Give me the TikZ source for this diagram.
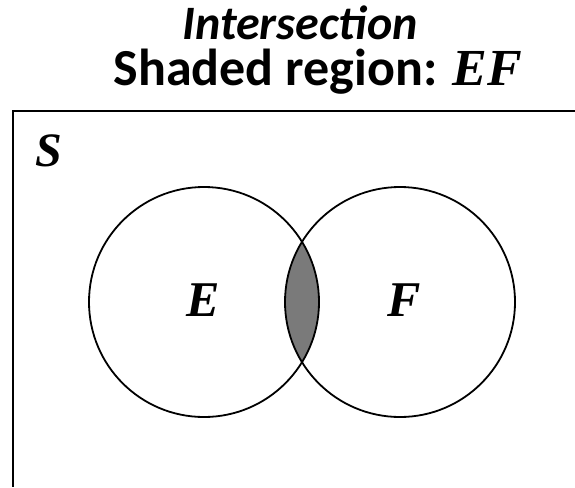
\documentclass[tikz,border=0pt]{standalone}
\usepackage{fontspec}
\setmainfont{Carlito}
\newfontfamily\tnr{Liberation Serif}
\tikzset{
  venn/.style={circle, draw, line width=1.8pt, minimum size=230pt, inner sep=0pt},
  lbl/.style={font=\tnr\bfseries\itshape\fontsize{50}{50}\selectfont},
  ttl/.style={anchor=base, inner sep=0pt, font=\bfseries\fontsize{48}{48}\selectfont}
}
\begin{document}
\begin{tikzpicture}[x=1pt,y=-1pt]
\useasboundingbox (0,0) rectangle (575,487);
\coordinate (tr) at (575,111);
\coordinate (tl) at (13,111);
\coordinate (bl) at (13,487);
\draw[line width=2pt] (tr) -- (tl) -- (bl);
\begin{scope}
  \clip (204,302) circle (115pt);
  \fill[black!52] (400,302) circle (115pt);
\end{scope}
\node[venn] (E) at (204,302) {};
\node[venn] (F) at (400,302) {};
\node[lbl] (Elbl) at (203,300) {E};
\node[lbl] (Flbl) at (404,300) {F};
\node[lbl, font=\tnr\bfseries\itshape\fontsize{48}{48}\selectfont] (S) at (49,151) {S};
\node[ttl] (t1) at (300,40) {\itshape Intersection};
\node[ttl, font=\bfseries\fontsize{52}{52}\selectfont] (t2) at (318,85) {Shaded region: {\tnr\bfseries\itshape EF}};
\end{tikzpicture}
\end{document}
